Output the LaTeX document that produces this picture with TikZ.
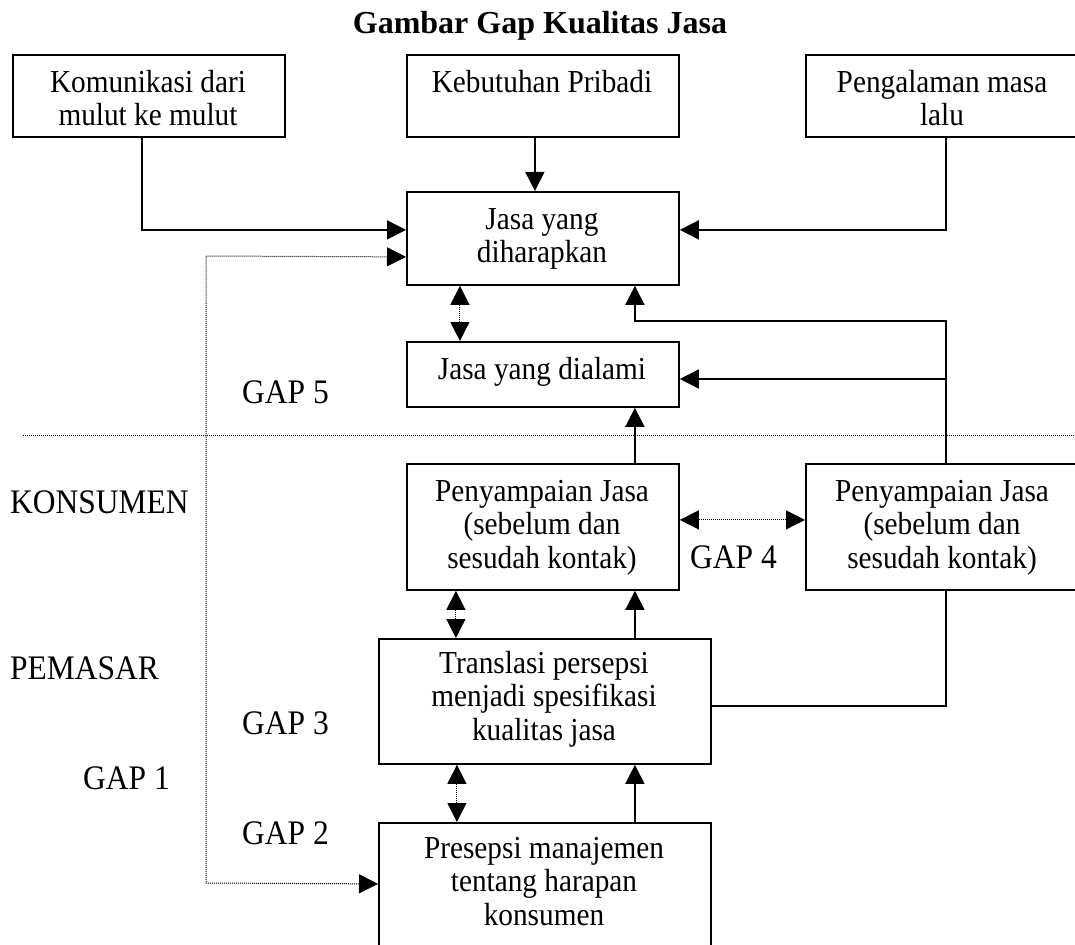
\documentclass[tikz,border=0pt]{standalone}
\usepackage{fontspec}
\setmainfont{Liberation Serif}[FakeStretch=0.915]
\newfontfamily\titlefont{Liberation Serif}
\usetikzlibrary{arrows.meta}
\begin{document}
\begin{tikzpicture}[x=1pt,y=-1pt,
  box/.style={draw,line width=1.8pt,inner sep=0pt,anchor=north west},
  txt/.style={anchor=north,inner sep=0pt,align=center,font=\fontsize{32}{33.5}\selectfont},
  lab/.style={anchor=base west,inner sep=0pt,font=\fontsize{34.4}{38}\selectfont},
  conn/.style={line width=1.6pt},
  arr/.style={conn,-{Triangle[length=19pt,width=19pt]}},
  dotline/.style={line width=1pt,dash pattern=on 1pt off 1pt},
  dotarr/.style={dotline,{Triangle[length=19pt,width=19pt]}-{Triangle[length=19pt,width=19pt]}}]
\useasboundingbox (0,0) rectangle (1075,944);
\clip (0,0) rectangle (1075,944);

% title
\node[font=\titlefont\bfseries\fontsize{32}{36}\selectfont,anchor=base,inner sep=0pt] (title) at (540,34) {Gambar Gap Kualitas Jasa};

% boxes
\node[box,minimum width=272pt,minimum height=82pt] (kom) at (12,54) {};
\node[box,minimum width=272pt,minimum height=82pt] (keb) at (406,54) {};
\node[box,minimum width=280pt,minimum height=82pt] (pen) at (805,54) {};
\node[box,minimum width=272pt,minimum height=93pt] (har) at (406,191) {};
\node[box,minimum width=272pt,minimum height=65pt] (dia) at (406,341) {};
\node[box,minimum width=272pt,minimum height=126pt] (sp1) at (406,463) {};
\node[box,minimum width=280pt,minimum height=126pt] (sp2) at (805,463) {};
\node[box,minimum width=332pt,minimum height=125pt] (tra) at (378,638) {};
\node[box,minimum width=332pt,minimum height=140pt] (pre) at (378,822) {};

% box texts
\node[txt] (komt) at (148,68.5) {\strut Komunikasi dari\\mulut ke mulut};
\node[txt] (kebt) at (542,68.5) {\strut Kebutuhan Pribadi};
\node[txt] (pent) at (942,68.5) {\strut Pengalaman masa\\lalu};
\node[txt] (hart) at (542,205.5) {\strut Jasa yang\\diharapkan};
\node[txt] (diat) at (542,355.5) {\strut Jasa yang dialami};
\node[txt] (sp1t) at (542,477.5) {\strut Penyampaian Jasa\\(sebelum dan\\sesudah kontak)};
\node[txt] (sp2t) at (942,477.5) {\strut Penyampaian Jasa\\(sebelum dan\\sesudah kontak)};
\node[txt] (trat) at (544,649.5) {\strut Translasi persepsi\\menjadi spesifikasi\\kualitas jasa};
\node[txt] (pret) at (544,834.5) {\strut Presepsi manajemen\\tentang harapan\\konsumen};

% labels
\node[lab] (g5) at (242,403) {GAP 5};
\node[lab] (kon) at (10,513) {KONSUMEN};
\node[lab] (pem) at (10,679) {PEMASAR};
\node[lab] (g3) at (242,734) {GAP 3};
\node[lab] (g1) at (83,789) {GAP 1};
\node[lab] (g2) at (242,844) {GAP 2};
\node[lab] (g4) at (690,568) {GAP 4};

% helper coordinates
\coordinate (dl1) at (206,256);
\coordinate (dl2) at (206,883);
\coordinate (j1) at (945,379);
\coordinate (h1) at (23,435);
\coordinate (h2) at (1075,435);

% dotted divider
\draw[dotline] (h1) -- (h2);

% connectors
\draw[arr] ([xshift=-7pt]kom.south) |- ([yshift=8.5pt]har.west);
\draw[arr] ([xshift=-8pt]keb.south) -- ([xshift=-8pt]har.north);
\draw[arr] (pen.south) |- ([yshift=8.5pt]har.east);
\draw[dotarr] ([yshift=-18.5pt]har.west) -- (dl1) -- (dl2) -- ([yshift=9pt]pre.west);
\draw[dotarr] ([xshift=-83pt]har.south) -- ([xshift=-83pt]dia.north);
\draw[arr] (sp2.north) -- ++(0,-142) -| ([xshift=92pt]har.south);
\draw[arr] (j1) -- (dia.east |- j1);
\draw[arr] ([xshift=92pt]sp1.north) -- ([xshift=92pt]dia.south);
\draw[dotarr] ([yshift=7pt]sp1.east) -- ([yshift=7pt]sp2.west);
\draw[dotarr] ([xshift=-87pt]sp1.south) -- ([xshift=-89pt]tra.north);
\draw[arr] ([xshift=90pt]tra.north) -- ([xshift=92pt]sp1.south);
\draw[conn] ([yshift=-4.5pt]tra.east) -| (sp2.south);
\draw[dotarr] ([xshift=-88pt]tra.south) -- ([xshift=-88pt]pre.north);
\draw[arr] ([xshift=90pt]pre.north) -- ([xshift=90pt]tra.south);
\end{tikzpicture}
\end{document}
